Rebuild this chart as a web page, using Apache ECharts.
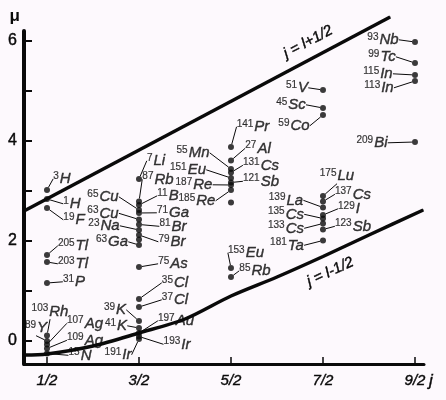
<!DOCTYPE html>
<html><head><meta charset="utf-8">
<script src="https://cdn.jsdelivr.net/npm/echarts@6/dist/echarts.min.js"></script>
<style>html,body{margin:0;padding:0;background:#fdf9fd;}#c{width:446px;height:400px;}</style>
</head><body><div id="c"></div>
<script>
// Nuclei: mass number, element, spin j, magnetic moment mu
const isoMass = ['3','1','19','205','203','31','103','89','107','109','15',
  '7','87','11','65','71','63','81','23','79','63','75','35','37','39','41','197','193','191',
  '141','27','55','131','151','121','187','185','153','85',
  '51','45','59','175','137','139','129','135','133','123','181',
  '93','99','115','113','209'];
const isoElem = ['H','H','F','Tl','Tl','P','Rh','Y','Ag','Ag','N',
  'Li','Rb','B','Cu','Ga','Cu','Br','Na','Br','Ga','As','Cl','Cl','K','K','Au','Ir','Ir',
  'Pr','Al','Mn','Cs','Eu','Sb','Re','Re','Eu','Rb',
  'V','Sc','Co','Lu','Cs','La','I','Cs','Cs','Sb','Ta',
  'Nb','Tc','In','In','Bi'];
const isoJ = [0.5,0.5,0.5,0.5,0.5,0.5,0.5,0.5,0.5,0.5,0.5,
  1.5,1.5,1.5,1.5,1.5,1.5,1.5,1.5,1.5,1.5,1.5,1.5,1.5,1.5,1.5,1.5,1.5,1.5,
  2.5,2.5,2.5,2.5,2.5,2.5,2.5,2.5,2.5,2.5,
  3.5,3.5,3.5,3.5,3.5,3.5,3.5,3.5,3.5,3.5,3.5,
  4.5,4.5,4.5,4.5,4.5];
const isoMu = [3.02,2.84,2.66,1.72,1.58,1.16,0.11,0.0,-0.07,-0.15,-0.25,
  3.24,2.79,2.72,2.62,2.56,2.43,2.33,2.22,2.12,1.92,1.48,0.84,0.68,0.40,0.26,0.16,0.09,0.04,
  3.88,3.61,3.44,3.37,3.26,3.17,3.12,3.02,1.46,1.28,
  5.02,4.66,4.52,2.90,2.79,2.67,2.52,2.45,2.35,2.23,2.01,
  5.98,5.56,5.32,5.20,3.98];
// unlabeled dots
const extraJ = [2.5, 1.5];
const extraMu = [2.77, 2.03];
// label offsets (pixels) from dot to label centre
const labelDx = [15,25,27,26,26,27,3,-11,38,38,33,
  17,19,29,-36,34,-36,34,-35,33,-27,34,36,36,-24,-23,37,38,-21,
  22,27,-38,30,-43,30,-37,-34,15,24,
  -26,-32,-29,14,30,-37,26,-37,-37,30,-36,
  -32,-33,-37,-36,-43];
const labelDy = [-11,5,12,-9,2,-1,-24,-13,-21,-8,2,
  -18,-22,-9,-13,0,-6,2,-4,7,-3,-3,-16,-7,-11,-2,-12,8,16,
  -20,-12,-16,-7,-8,-1,0,11,-15,-6,
  -2,-3,11,-20,-7,-7,-6,-4,5,-3,5,
  -2,-6,-1,7,1];
// Schmidt lines
const upperJ = [0.25, 4.23];
const upperMu = [2.6, 6.48];
const lowerJ = [0.25, 0.5, 1.0, 1.5, 2.0, 2.5, 3.0, 3.5, 4.0, 4.59];
const lowerMu = [-0.28, -0.26, -0.1, 0.16, 0.44, 0.9, 1.28, 1.69, 2.12, 2.62];
const upperText = 'j = l+1/2';
const lowerText = 'j = l-1/2';
const xTicks = [0.5, 1.5, 2.5, 3.5, 4.5];
const xTickLabels = ['1/2', '3/2', '5/2', '7/2', '9/2'];
const yTicks = [0, 1, 2, 3, 4, 5, 6];
const yTickLabels = [0, 2, 4, 6];

const FONT = 'Liberation Sans';
const INK = '#0a0a0a';
const chart = echarts.init(document.getElementById('c'), null, {renderer: 'canvas'});

function lineData(js, mus, text) {
  return js.map((j, i) => i === js.length - 1
    ? {value: [j, mus[i]], label: {show: true, formatter: text}}
    : [j, mus[i]]);
}
// offset given in screen pixels, converted into the rotated label frame
function rotOffset(dx, dy, deg) {
  const t = deg * Math.PI / 180, c = Math.cos(t), s = Math.sin(t);
  return {dx: dx * c - dy * s, dy: dx * s + dy * c};
}
const thick = {textBorderColor: INK, textBorderWidth: 0.4};

chart.setOption({
  backgroundColor: '#fdf9fd',
  animation: false,
  grid: {left: 24, right: 22, top: 31, bottom: 36},
  xAxis: {
    type: 'value', min: 0.25, max: 4.598,
    splitLine: {show: false},
    axisLine: {onZero: false, lineStyle: {color: INK, width: 3}},
    axisTick: {inside: true, length: 7, lineStyle: {color: INK, width: 1.5}, customValues: xTicks},
    axisLabel: Object.assign({customValues: xTicks, formatter: v => xTickLabels[xTicks.indexOf(v)] || '',
      color: INK, fontSize: 15, fontStyle: 'italic', fontFamily: FONT, margin: 9}, thick),
    name: '\nj', nameLocation: 'end', nameGap: 5, nameMoveOverlap: false,
    nameTextStyle: Object.assign({color: INK, fontSize: 17, fontStyle: 'italic', fontFamily: FONT, verticalAlign: 'middle', lineHeight: 34}, thick)
  },
  yAxis: {
    type: 'value', min: -0.46, max: 6.2,
    splitLine: {show: false},
    axisLine: {onZero: false, lineStyle: {color: INK, width: 4}},
    axisTick: {inside: true, length: 8, lineStyle: {color: INK, width: 2}, customValues: yTicks},
    axisLabel: Object.assign({customValues: yTickLabels, color: INK, fontSize: 16, fontFamily: FONT, margin: 7}, thick),
    name: 'μ', nameLocation: 'end', nameGap: 6, nameMoveOverlap: false,
    nameTextStyle: {color: INK, fontSize: 17, fontWeight: 'bold', fontFamily: FONT, align: 'right', padding: [0, 4, 0, 0]}
  },
  series: [
    {
      type: 'line', data: lineData(upperJ, upperMu, upperText), clip: false,
      symbol: 'circle', symbolSize: 1, itemStyle: {color: INK},
      lineStyle: {color: INK, width: 3.5}, silent: true, z: 1,
      label: Object.assign({show: false, position: 'inside', rotate: 28, color: INK, fontSize: 15, fontStyle: 'italic', fontFamily: FONT}, thick),
      labelLayout: () => rotOffset(-82, 25, 28)
    },
    {
      type: 'line', data: lineData(lowerJ, lowerMu, lowerText), smooth: 0.3, clip: false,
      symbol: 'circle', symbolSize: 1, itemStyle: {color: INK},
      lineStyle: {color: INK, width: 3.5}, silent: true, z: 1,
      label: Object.assign({show: false, position: 'inside', rotate: 25, color: INK, fontSize: 15, fontStyle: 'italic', fontFamily: FONT}, thick),
      labelLayout: () => rotOffset(-93, 62, 25)
    },
    {
      type: 'scatter', data: isoJ.map((j, i) => [j, isoMu[i]]),
      symbol: 'circle', symbolSize: 6, itemStyle: {color: INK}, silent: true, z: 3,
      label: {
        show: true, position: 'inside', color: INK,
        formatter: p => '{m|' + isoMass[p.dataIndex] + '}{e|' + isoElem[p.dataIndex] + '}',
        rich: {
          m: Object.assign({fontSize: 10, fontFamily: FONT, color: INK, verticalAlign: 'top', lineHeight: 16, padding: [0, 1, 0, 0]}, {textBorderColor: INK, textBorderWidth: 0.2}),
          e: Object.assign({fontSize: 15, fontStyle: 'italic', fontFamily: FONT, color: INK, lineHeight: 16}, thick)
        }
      },
      labelLine: {show: true, lineStyle: {color: INK, width: 1}},
      labelLayout: p => ({dx: labelDx[p.dataIndex], dy: labelDy[p.dataIndex]})
    },
    {
      type: 'scatter', data: extraJ.map((j, i) => [j, extraMu[i]]),
      symbol: 'circle', symbolSize: 6, itemStyle: {color: INK}, silent: true, z: 3
    }
  ]
});
</script></body></html>
